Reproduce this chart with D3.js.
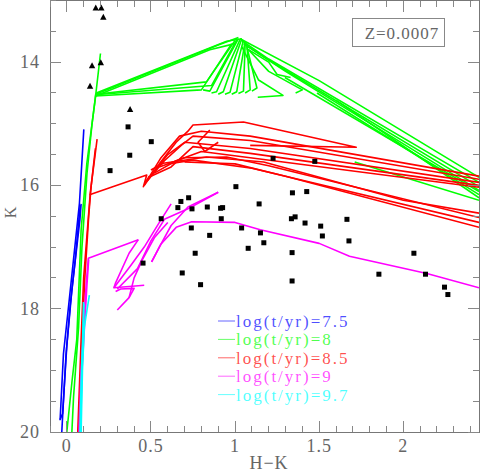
<!DOCTYPE html>
<meta charset="utf-8">
<style>
body { margin: 0; background: #fff; }
.frame { fill: none; stroke: #777; stroke-width: 1px; shape-rendering: crispEdges; }
.tick { stroke: #888; stroke-width: 1px; shape-rendering: crispEdges; }
.ticklabel { font-family: "Liberation Serif", "DejaVu Serif", serif; font-size: 18px; fill: #666; letter-spacing: 1px; }
.iso { fill: none; stroke-width: 1.6px; stroke-linejoin: round; }
</style>
<body>
<svg width="480" height="473"></svg>
<script src="https://d3js.org/d3.v7.min.js"></script>
<script>
// observed stars: H-K, K
var squares = [[0.364,15.05],[0.502,15.29],[0.374,15.51],[0.257,15.76],[1.005,16.02],[0.678,16.26],
  [0.724,16.20],[0.660,16.36],[0.744,16.38],[0.835,16.35],[0.914,16.37],[0.926,16.36],[0.561,16.54],
  [0.918,16.54],[0.740,16.69],[0.849,16.81],[0.763,17.10],[0.453,17.26],[0.686,17.42],[0.795,17.61],
  [1.226,15.56],[1.474,15.61],[1.341,16.12],[1.426,16.10],[1.143,16.30],[1.335,16.54],[1.357,16.51],
  [1.416,16.61],[1.509,16.66],[1.665,16.55],[1.039,16.69],[1.151,16.77],[1.519,16.82],[1.078,17.02],
  [1.171,16.93],[1.677,16.90],[1.339,17.09],[1.339,17.55],[1.855,17.44],[2.063,17.10],[2.132,17.44],
  [2.245,17.65],[2.265,17.77]];
var triangles = [[0.172,13.12],[0.205,13.12],[0.217,13.27],[0.150,14.06],[0.202,14.01],[0.138,14.39],[0.376,14.77]];

// isochrone tracks
var iso75 = [
  [[0.101,15.09],[0.075,16.29],[0.01,17.97],[-0.02,18.73],[-0.04,19.81]],
  [[0.08,16.32],[0.05,17.2],[0.02,17.95],[-0.005,18.75],[-0.03,20]],
  [[0.085,16.3],[0.078,16.55],[0.03,17.7],[0.0,18.6],[-0.025,19.7],[-0.04,19.8]]
];
var iso8 = [
  [[0.0,20],[0.03,19.2],[0.059,18.5],[0.085,16.72],[0.119,15.64],[0.168,14.62],[0.2,13.86]],
  [[0.03,20],[0.04,19.43],[0.07,18.3],[0.09,17.0],[0.12,15.8],[0.15,15.0],[0.172,14.52]],
  [[0.172,14.52],[0.9,13.72],[1.02,13.6]],
  [[0.175,14.5],[0.95,13.66],[1.04,13.62]],
  [[0.17,14.55],[0.85,13.8],[1.0,13.7]],
  [[0.172,14.52],[0.83,14.32],[1.0,13.65]],
  [[0.17,14.55],[0.8,14.45],[0.98,13.7]],
  [[0.17,14.53],[0.86,14.38],[1.01,13.64]],
  [[0.81,14.45],[0.85,14.47],[1.02,13.62]],
  [[0.86,14.5],[0.89,14.48],[1.03,13.63]],
  [[0.9,14.52],[0.93,14.48],[1.04,13.62]],
  [[0.94,14.52],[0.97,14.49],[1.05,13.64]],
  [[0.98,14.52],[1.01,14.48],[1.06,13.66]],
  [[1.02,14.51],[1.05,14.47],[1.06,13.7]],
  [[1.06,14.5],[1.09,14.45],[1.07,13.7]],
  [[1.1,14.47],[1.13,14.42],[1.07,13.75]],
  [[1.03,13.62],[1.5,14.3],[2.45,15.87]],
  [[1.04,13.65],[1.2,13.95],[2.45,15.95]],
  [[1.05,13.7],[1.25,14.05],[2.45,16.02]],
  [[1.06,13.72],[1.3,14.15],[2.45,16.08]],
  [[1.07,13.78],[1.2,14.0],[1.25,14.2],[1.33,14.25]],
  [[1.04,13.75],[1.14,14.29],[1.285,14.54],[1.135,14.57]],
  [[1.08,13.8],[1.2,14.15],[1.4,14.45],[1.36,14.5]],
  [[1.296,14.25],[2.45,16.1]],
  [[1.487,14.5],[2.45,16.15]],
  [[1.602,14.62],[2.45,16.2]],
  [[1.711,15.62],[2.45,16.24]]
];
var iso85 = [
  [[0.065,20],[0.085,18.5],[0.1,17.5],[0.139,16.13],[0.18,15.25]],
  [[0.07,20],[0.09,18.5],[0.107,17.5],[0.13,16.5],[0.145,16.0],[0.17,15.4]],
  [[0.135,16.15],[0.475,15.83],[0.455,16.02],[0.49,15.85]],
  [[0.46,16.0],[0.55,15.65],[0.65,15.3],[0.72,15.12],[0.75,15.02],[1.05,14.97],[1.72,15.38],[1.09,15.35]],
  [[0.47,15.95],[0.56,15.55],[0.67,15.2],[0.8,15.12],[1.09,15.2],[2.45,15.85]],
  [[0.48,15.92],[0.58,15.6],[0.68,15.35],[0.75,15.2],[1.09,15.27],[2.45,15.9]],
  [[0.49,15.88],[0.6,15.5],[0.7,15.3],[1.09,15.4],[2.45,15.95]],
  [[0.5,15.85],[0.62,15.7],[0.75,15.37],[1.09,15.48],[2.45,16.0]],
  [[0.52,15.8],[0.65,15.6],[0.8,15.45],[1.09,15.55],[2.45,16.03]],
  [[0.5,15.75],[0.573,15.64],[0.83,15.54],[1.17,15.62],[2.0,16.24],[2.45,16.45]],
  [[0.55,15.7],[0.7,15.55],[0.95,15.54],[1.2,15.68],[2.45,16.52]],
  [[0.6,15.65],[0.75,15.59],[1.1,15.72],[2.45,16.6]],
  [[0.7,15.62],[1.0,15.65],[1.3,15.85],[2.45,16.68]],
  [[0.9,15.3],[0.82,15.45],[0.78,15.3],[0.85,15.1]]
];
var iso9 = [
  [[0.072,20],[0.085,19.0],[0.099,18.35],[0.115,17.6],[0.128,17.18],[0.425,16.88]],
  [[0.078,20],[0.09,19.0],[0.105,18.3],[0.12,17.6],[0.13,17.2]],
  [[0.425,16.88],[0.37,17.1],[0.29,17.58],[0.28,17.66],[0.46,17.62]],
  [[0.28,17.66],[0.38,17.3],[0.46,17.0],[0.55,16.6],[0.62,16.3]],
  [[0.29,17.72],[0.32,17.68],[0.4,17.67],[0.37,17.82],[0.3,18.02]],
  [[0.3,17.68],[0.42,17.35],[0.5,16.9],[0.58,16.55],[0.72,16.38],[0.9,16.11]],
  [[0.37,17.82],[0.4,17.5],[0.45,17.2],[0.52,16.85],[0.6,16.6]],
  [[0.504,17.24],[0.55,17.0],[0.62,16.65],[0.72,16.35],[0.9,16.11]],
  [[0.504,17.24],[0.56,16.95],[0.65,16.68],[0.742,16.59],[1.0,16.6],[1.15,16.72],[1.5,16.94],
   [1.68,17.15],[2.14,17.43],[2.45,17.66]]
];
var iso97 = [
  [[0.085,20],[0.093,19.0],[0.104,18.3],[0.134,17.78]],
  [[0.078,20],[0.085,19.2],[0.095,18.4],[0.099,17.89]],
  [[0.082,20],[0.09,19.0],[0.1,18.2],[0.102,17.92]]
];
var ages = ["7.5", "8", "8.5", "9", "9.7"];
var colors = ["#0000ff", "#00ff00", "#ff0000", "#ff00ff", "#00ffff"];
var xMajor = [0, 0.5, 1, 1.5, 2];
var yMajor = [14, 16, 18, 20];

var svg = d3.select("svg"),
    margin = {top: 0.5, right: 1, bottom: 41, left: 50},
    width = 480 - margin.left - margin.right,
    height = 473 - margin.top - margin.bottom;

var x = d3.scaleLinear().domain([-0.1, 2.45]).range([margin.left, margin.left + width]);
var y = d3.scaleLinear().domain([13, 20]).range([margin.top, margin.top + height]);

svg.append("clipPath").attr("id", "clip")
  .append("rect").attr("x", x(-0.1)).attr("y", y(13)).attr("width", width).attr("height", height);

var line = d3.line().x(function(d) { return x(d[0]); }).y(function(d) { return y(d[1]); });

var plot = svg.append("g").attr("clip-path", "url(#clip)");
[iso75, iso8, iso85, iso9, iso97].forEach(function(tracks, i) {
  plot.append("g").selectAll("path").data(tracks).enter().append("path")
    .attr("class", "iso").attr("stroke", colors[i]).attr("d", line);
});

plot.selectAll(".sq").data(squares).enter().append("rect")
  .attr("x", function(d) { return x(d[0]) - 2.5; })
  .attr("y", function(d) { return y(d[1]) - 2.5; })
  .attr("width", 5).attr("height", 5).attr("fill", "#000");

plot.selectAll(".tri").data(triangles).enter().append("path")
  .attr("transform", function(d) { return "translate(" + x(d[0]) + "," + y(d[1]) + ")"; })
  .attr("d", "M0,-3.5L3.2,2.5L-3.2,2.5Z").attr("fill", "#000");

// frame + ticks
svg.append("rect").attr("class", "frame")
  .attr("x", x(-0.1)).attr("y", y(13)).attr("width", width).attr("height", height);

var xMinor = d3.range(-1, 25).map(function(i) { return i / 10; });
var yMinor = d3.range(26, 41).map(function(i) { return i / 2; });
var y0 = y(20), y1 = y(13), x0 = x(-0.1), x1 = x(2.45);
xMinor.forEach(function(v) {
  var major = xMajor.indexOf(Math.round(v * 10) / 10) >= 0, len = major ? 11 : 6;
  svg.append("line").attr("class", "tick").attr("x1", x(v)).attr("x2", x(v)).attr("y1", y0).attr("y2", y0 - len);
  svg.append("line").attr("class", "tick").attr("x1", x(v)).attr("x2", x(v)).attr("y1", y1).attr("y2", y1 + len);
});
yMinor.forEach(function(v) {
  var major = yMajor.indexOf(v) >= 0, len = major ? 11 : 6;
  svg.append("line").attr("class", "tick").attr("y1", y(v)).attr("y2", y(v)).attr("x1", x0).attr("x2", x0 + len);
  svg.append("line").attr("class", "tick").attr("y1", y(v)).attr("y2", y(v)).attr("x1", x1).attr("x2", x1 - len);
});

svg.selectAll(".xl").data(xMajor).enter().append("text").attr("class", "ticklabel")
  .attr("x", function(d) { return x(d); }).attr("y", 452).attr("text-anchor", "middle")
  .text(function(d) { return d; });
svg.selectAll(".yl").data(yMajor).enter().append("text").attr("class", "ticklabel")
  .attr("x", 40).attr("y", function(d) { return y(d) + 6; }).attr("text-anchor", "end")
  .text(function(d) { return d; });

svg.append("text").attr("class", "ticklabel").attr("x", 269).attr("y", 469)
  .attr("text-anchor", "middle").text("H\u2212K");
svg.append("text").attr("class", "ticklabel").style("font-size", "16px")
  .attr("transform", "translate(16,212) rotate(-90)").attr("text-anchor", "middle").text("K");

// metallicity box
svg.append("rect").attr("x", 352.5).attr("y", 18.5).attr("width", 92).attr("height", 28)
  .attr("fill", "#fff").attr("stroke", "#888");
svg.append("text").attr("class", "ticklabel").attr("x", 402).attr("y", 39)
  .attr("text-anchor", "middle").style("font-size", "17px").text("Z=0.0007");

// legend
var leg = svg.append("g").attr("transform", "translate(218,321)");
ages.forEach(function(a, i) {
  var g = leg.append("g").attr("transform", "translate(0," + (i * 18.4) + ")");
  g.append("line").attr("x1", 0).attr("x2", 17).attr("y1", 0).attr("y2", 0)
    .attr("stroke", colors[i]).attr("stroke-opacity", 0.6);
  g.append("text").attr("x", 18).attr("y", 6)
    .attr("font-family", "'Liberation Serif', 'DejaVu Serif', serif").attr("font-size", 17)
    .style("letter-spacing", "2px")
    .attr("fill", colors[i]).attr("fill-opacity", 0.7)
    .text("log(t/yr)=" + a);
});
</script>
